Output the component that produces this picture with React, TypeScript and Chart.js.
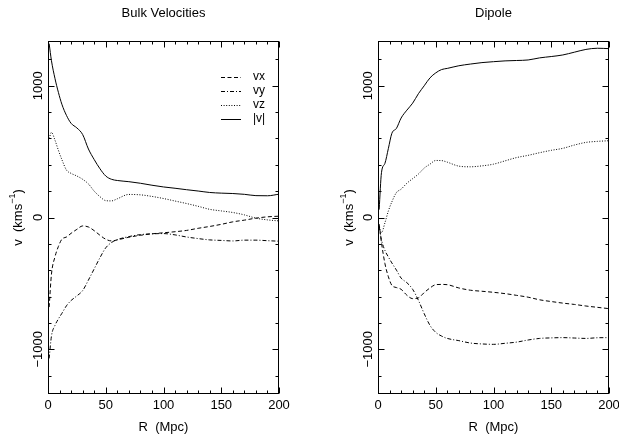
import React, { useEffect, useRef } from "react";
import { Chart, registerables } from "chart.js";

Chart.register(...registerables);

// Radius grid (Mpc)
const R = [1, 3, 6, 9, 12, 16, 20, 25, 30, 35, 40, 45, 50, 55, 60, 70, 80, 90, 100, 110, 120, 130, 140, 150, 160, 170, 180, 190, 200];

// Bulk Velocities panel
const BULK_VX = [-680, -430, -300, -220, -165, -148, -120, -90, -64, -72, -100, -135, -165, -178, -170, -150, -135, -124, -116, -108, -98, -82, -68, -52, -33, -20, -5, 5, 10];
const BULK_VY = [-1070, -900, -820, -770, -728, -670, -630, -595, -555, -475, -390, -305, -230, -190, -168, -145, -130, -124, -122, -132, -148, -160, -170, -174, -178, -172, -172, -176, -180];
const BULK_VZ = [600, 646, 588, 510, 440, 360, 335, 315, 290, 255, 200, 158, 128, 126, 142, 175, 172, 160, 144, 125, 106, 85, 62, 50, 38, 20, -5, -18, -26];
const BULK_V = [1320, 1190, 1057, 950, 860, 775, 715, 680, 630, 520, 440, 370, 315, 290, 281, 272, 260, 245, 232, 222, 211, 201, 190, 185, 182, 176, 166, 165, 177];

// Dipole panel
const DIP_VX = [-50, -190, -350, -450, -515, -532, -545, -590, -616, -610, -570, -535, -510, -508, -510, -535, -552, -560, -568, -578, -591, -605, -625, -638, -650, -660, -672, -682, -692];
const DIP_VY = [-70, -170, -250, -300, -345, -400, -460, -495, -545, -629, -730, -819, -872, -900, -918, -935, -953, -960, -963, -955, -946, -930, -918, -914, -912, -915, -918, -913, -912];
const DIP_VZ = [-70, -115, -40, 50, 119, 190, 215, 260, 295, 330, 375, 405, 433, 432, 420, 390, 385, 392, 405, 430, 455, 472, 492, 510, 525, 550, 570, 578, 583];
const DIP_V = [60, 340, 411, 525, 639, 677, 755, 815, 868, 940, 1000, 1060, 1098, 1123, 1132, 1152, 1165, 1176, 1183, 1189, 1192, 1196, 1212, 1222, 1234, 1255, 1276, 1285, 1282];

const SERIES_NAMES = ["vx", "vy", "vz", "|v|"];
const SERIES_DASH = [[4, 2.5], [4, 2, 1, 2], [1, 1.6], []];

const X_MIN = 0;
const X_MAX = 200;
const Y_MIN = -1340;
const Y_MAX = 1340;
const X_MAJOR = [0, 50, 100, 150, 200];
const X_MINOR = [10, 20, 30, 40, 60, 70, 80, 90, 110, 120, 130, 140, 160, 170, 180, 190];
const X_LABELS = ["0", "50", "100", "150", "200"];
const Y_MAJOR = [-1000, 0, 1000];
const Y_MINOR = [-1200, -800, -600, -400, -200, 200, 400, 600, 800, 1200];
const Y_LABELS = ["\u22121000", "0", "1000"];

const FONT = '"Liberation Sans", Arial, Helvetica, sans-serif';

type PanelCfg = {
  title: string;
  series: number[][];
  legend: boolean;
  width: number;
  padLeft: number;
  padRight: number;
  yLabelX: number;
  yTickX: number;
};

const PANELS: PanelCfg[] = [
  { title: "Bulk Velocities", series: [BULK_VX, BULK_VY, BULK_VZ, BULK_V], legend: true, width: 310, padLeft: 48, padRight: 31, yLabelX: 18, yTickX: 38 },
  { title: "Dipole", series: [DIP_VX, DIP_VY, DIP_VZ, DIP_V], legend: false, width: 309, padLeft: 68, padRight: 10, yLabelX: 39, yTickX: 58 },
];

function decorPlugin(cfg: PanelCfg) {
  return {
    id: "decor",
    afterDraw(chart: any) {
      const ctx: CanvasRenderingContext2D = chart.ctx;
      const xs = chart.scales.x;
      const ys = chart.scales.y;
      const ca = chart.chartArea;
      const L = Math.round(ca.left) + 0.5;
      const Rr = Math.round(ca.right) - 0.5;
      const T = Math.round(ca.top) + 0.5;
      const B = Math.round(ca.bottom) - 0.5;
      ctx.save();
      ctx.strokeStyle = "#000";
      ctx.fillStyle = "#000";
      ctx.lineWidth = 1;
      ctx.setLineDash([]);
      ctx.strokeRect(L, T, Rr - L, B - T);

      const line = (x1: number, y1: number, x2: number, y2: number) => {
        ctx.beginPath();
        ctx.moveTo(x1, y1);
        ctx.lineTo(x2, y2);
        ctx.stroke();
      };
      const px = (v: number) => Math.round(xs.getPixelForValue(v)) + 0.5;
      const py = (v: number) => Math.round(ys.getPixelForValue(v)) + 0.5;

      X_MAJOR.forEach((v) => { const p = px(v); line(p, B, p, B - 6); line(p, T, p, T + 6); });
      X_MINOR.forEach((v) => { const p = px(v); line(p, B, p, B - 3); line(p, T, p, T + 3); });
      Y_MAJOR.forEach((v) => { const p = py(v); line(L, p, L + 6, p); line(Rr, p, Rr - 6, p); });
      Y_MINOR.forEach((v) => { const p = py(v); line(L, p, L + 3, p); line(Rr, p, Rr - 3, p); });

      // x tick labels
      ctx.font = `13px ${FONT}`;
      ctx.textAlign = "center";
      ctx.textBaseline = "middle";
      X_MAJOR.forEach((v, i) => ctx.fillText(X_LABELS[i], xs.getPixelForValue(v), 405));

      // y tick labels (rotated)
      Y_MAJOR.forEach((v, i) => {
        ctx.save();
        ctx.translate(cfg.yTickX, ys.getPixelForValue(v));
        ctx.rotate(-Math.PI / 2);
        ctx.fillText(Y_LABELS[i], 0, 0);
        ctx.restore();
      });

      const cx = (ca.left + ca.right) / 2;
      // panel title
      ctx.fillText(cfg.title, cx, 13);
      // x axis title
      ctx.fillText("R  (Mpc)", cx, 427);

      // y axis title with superscript
      ctx.save();
      ctx.translate(cfg.yLabelX, (ca.top + ca.bottom) / 2);
      ctx.rotate(-Math.PI / 2);
      ctx.textAlign = "left";
      const p1 = "v  (kms";
      const sup = "\u22121";
      const p3 = ")";
      ctx.font = `13px ${FONT}`;
      const w1 = ctx.measureText(p1).width;
      const w3 = ctx.measureText(p3).width;
      ctx.font = `9px ${FONT}`;
      const w2 = ctx.measureText(sup).width;
      const total = w1 + w2 + w3;
      let x0 = -total / 2;
      ctx.font = `13px ${FONT}`;
      ctx.fillText(p1, x0, 0);
      ctx.font = `9px ${FONT}`;
      ctx.fillText(sup, x0 + w1, -5);
      ctx.font = `13px ${FONT}`;
      ctx.fillText(p3, x0 + w1 + w2, 0);
      ctx.restore();

      // legend
      if (cfg.legend) {
        ctx.font = `12px ${FONT}`;
        ctx.textAlign = "left";
        SERIES_NAMES.forEach((name, i) => {
          const y = 77 + i * 14;
          ctx.setLineDash(SERIES_DASH[i]);
          ctx.lineWidth = 1;
          line(221, y + 0.5, 241, y + 0.5);
          ctx.setLineDash([]);
          ctx.fillText(name, 253, y);
        });
      }
      ctx.restore();
    },
  };
}

function Panel({ cfg }: { cfg: PanelCfg }) {
  const ref = useRef<HTMLCanvasElement | null>(null);
  useEffect(() => {
    if (!ref.current) return;
    const chart = new Chart(ref.current, {
      type: "line",
      data: {
        datasets: cfg.series.map((vals, i) => ({
          label: SERIES_NAMES[i],
          data: R.map((r, j) => ({ x: r, y: vals[j] })),
          borderColor: "#000",
          borderWidth: 1,
          borderDash: SERIES_DASH[i],
          pointRadius: 0,
          fill: false,
          cubicInterpolationMode: "monotone" as const,
        })),
      },
      options: {
        responsive: false,
        animation: false,
        devicePixelRatio: 1,
        layout: { padding: { left: cfg.padLeft, right: cfg.padRight, top: 41, bottom: 44 } },
        plugins: { legend: { display: false }, title: { display: false }, tooltip: { enabled: false } },
        scales: {
          x: { type: "linear", min: X_MIN, max: X_MAX, display: false },
          y: { type: "linear", min: Y_MIN, max: Y_MAX, display: false },
        },
      },
      plugins: [decorPlugin(cfg)],
    });
    return () => chart.destroy();
  }, [cfg]);
  return <canvas ref={ref} width={cfg.width} height={438} style={{ display: "block", width: cfg.width, height: 438 }} />;
}

export default function App() {
  return (
    <div style={{ position: "absolute", left: 0, top: 0, width: 619, height: 438, background: "#fff", display: "flex" }}>
      {PANELS.map((p) => (
        <Panel key={p.title} cfg={p} />
      ))}
    </div>
  );
}
